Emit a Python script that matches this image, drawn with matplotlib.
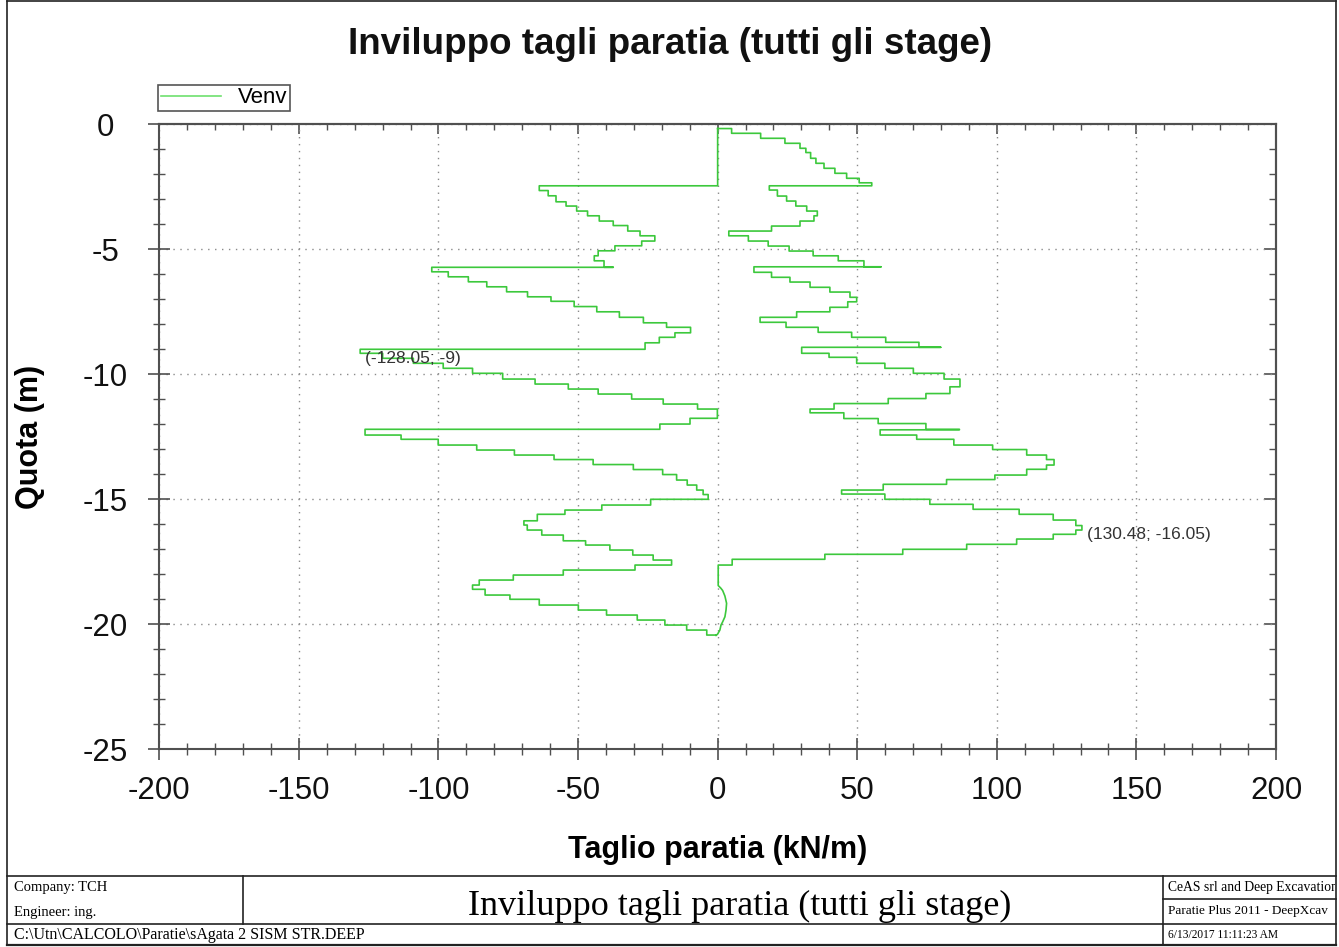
import numpy as np
import matplotlib.pyplot as plt
from matplotlib.lines import Line2D
from matplotlib.transforms import Bbox, TransformedBbox
from matplotlib.ticker import MultipleLocator

plt.rcParams['font.family'] = ['Liberation Sans', 'DejaVu Sans']
plt.rcParams['axes.unicode_minus'] = False

# positive shear envelope (right branch), step vertices: value (kN/m), depth (m)
v_pos = [0, 5.0, 15.4, 24.1, 29.5, 31.6, 33.3, 35.2, 38.1, 42.0, 46.2, 50.7, 55.2,
         18.5, 21.4, 24.7, 28.0, 31.9, 35.7, 34.5, 29.5, 19.3, 4.0, 11.0, 18.1, 25.6,
         34.2, 43.2, 52.4, 58.5, 13.0, 19.3, 25.9, 33.1, 40.2, 47.4, 49.8, 46.6, 40.2,
         28.3, 15.2, 24.5, 36.0, 48.0, 60.2, 72.1, 79.9, 30.1, 39.9, 49.8, 59.9, 70.1,
         81.1, 86.8, 83.2, 74.6, 61.1, 41.7, 33.1, 45.2, 57.5, 74.6, 86.6, 58.2, 71.3,
         84.6, 98.5, 110.7, 117.8, 120.5, 117.8, 110.7, 99.3, 82.0, 59.3, 44.4, 59.9,
         76.0, 91.5, 108.0, 120.2, 128.3, 130.48, 128.3, 120.2, 107.1, 89.2, 66.3,
         38.4, 5.2, 0.2]
z_pos = [-0.17, -0.17, -0.36, -0.56, -0.76, -0.96, -1.13, -1.36, -1.56, -1.76, -1.96,
         -2.16, -2.34, -2.46, -2.63, -2.87, -3.07, -3.27, -3.47, -3.66, -3.87, -4.07,
         -4.27, -4.46, -4.67, -4.87, -5.07, -5.26, -5.46, -5.70, -5.70, -5.92, -6.12,
         -6.31, -6.52, -6.71, -6.92, -7.10, -7.32, -7.50, -7.72, -7.92, -8.12, -8.32,
         -8.52, -8.72, -8.92, -8.92, -9.16, -9.32, -9.56, -9.76, -9.96, -10.19, -10.50,
         -10.77, -10.97, -11.17, -11.39, -11.54, -11.77, -11.97, -12.20, -12.22, -12.43,
         -12.60, -12.83, -13.01, -13.23, -13.41, -13.63, -13.80, -14.03, -14.21, -14.40,
         -14.63, -14.79, -15.00, -15.20, -15.40, -15.60, -15.83, -16.05, -16.23, -16.40,
         -16.59, -16.80, -17.00, -17.20, -17.40, -17.63]

# toe of the wall, smooth part of the positive branch
v_toe = [0.2, 1.1, 1.8, 2.6, 3.2, 3.0, 2.6, 1.8, 1.2, 0.8, 0.0, -0.6]
z_toe = [-18.45, -18.55, -18.65, -18.87, -19.16, -19.43, -19.70, -19.90, -20.03,
         -20.23, -20.39, -20.45]

# negative shear envelope (left branch)
v_neg = [0, -63.9, -60.7, -57.9, -54.3, -50.5, -46.6, -42.4, -37.4, -32.2, -27.8, -22.5,
         -27.2, -36.8, -42.8, -44.2, -40.7, -37.4, -102.4, -96.5, -89.3, -82.7, -75.6,
         -68.1, -59.7, -51.4, -43.3, -35.2, -26.6, -18.3, -9.7, -15.3, -20.9, -26.0,
         -128.05, -120.0, -109.0, -98.3, -87.8, -77.0, -65.4, -53.5, -42.8, -30.8, -19.5,
         -7.2, -0.1, -9.9, -20.7, -126.3, -113.4, -100.1, -86.3, -72.8, -58.6, -44.6,
         -30.2, -19.7, -14.7, -10.9, -7.5, -5.2, -3.4, -24.0, -41.5, -54.7, -64.6, -69.4,
         -68.2, -63.0, -55.3, -47.3, -38.6, -30.4, -23.1, -16.5, -29.6, -55.3, -73.2,
         -85.4, -87.8, -83.3, -74.4, -63.9, -49.9, -39.8, -28.8, -18.9, -11.1, -3.9, -0.6]
z_neg = [-0.17, -2.46, -2.65, -2.86, -3.10, -3.27, -3.47, -3.66, -3.87, -4.05, -4.27,
         -4.46, -4.67, -4.86, -5.06, -5.26, -5.46, -5.72, -5.72, -5.90, -6.10, -6.30,
         -6.50, -6.70, -6.90, -7.08, -7.29, -7.50, -7.72, -7.94, -8.12, -8.34, -8.52,
         -8.74, -9.00, -9.16, -9.36, -9.56, -9.76, -9.96, -10.19, -10.39, -10.59, -10.79,
         -10.99, -11.19, -11.39, -11.76, -11.99, -12.20, -12.43, -12.60, -12.83, -13.03,
         -13.23, -13.41, -13.61, -13.81, -14.01, -14.23, -14.43, -14.63, -14.81, -15.00,
         -15.23, -15.43, -15.60, -15.86, -16.03, -16.23, -16.43, -16.66, -16.83, -17.03,
         -17.23, -17.43, -17.63, -17.83, -18.03, -18.23, -18.43, -18.60, -18.83, -19.00,
         -19.23, -19.43, -19.63, -19.83, -20.03, -20.23, -20.43]

peaks = [(-128.05, -9), (130.48, -16.05)]

W, H = 1339, 947


def steps(v, z):
    # vertical first, then horizontal (shear constant over each slice)
    xs, ys = [v[0]], [z[0]]
    for k in range(1, len(v)):
        xs += [v[k - 1], v[k]]
        ys += [z[k], z[k]]
    return xs, ys


def fx(px):
    return px / W


def fy(py):
    return 1 - py / H


xp, yp = steps(v_pos, z_pos)
xn, yn = steps(v_neg, z_neg)
x_env = xp + v_toe + xn[::-1]
y_env = yp + z_toe + yn[::-1]

fig = plt.figure(figsize=(W / 100, H / 100), dpi=100)
ax = fig.add_axes([fx(159.3), fy(749.3), (1276 - 159.3) / W, (749.3 - 124.3) / H])

ax.plot(x_env, y_env, color='#3cc83c', lw=1.2, label='Venv', zorder=3)

ax.set_xlim(-200, 200)
ax.set_ylim(-25, 0)
ax.xaxis.set_major_locator(MultipleLocator(50))
ax.xaxis.set_minor_locator(MultipleLocator(10))
ax.yaxis.set_major_locator(MultipleLocator(5))
ax.yaxis.set_minor_locator(MultipleLocator(1))
ax.grid(True, which='major', linestyle=(0, (1, 4)), color='#8a8a8a', lw=1.0)

spine_c = '#505050'
for s in ax.spines.values():
    s.set_color(spine_c)
    s.set_linewidth(1.5)
ax.tick_params(which='major', direction='inout', length=15.8, width=1.2, color=spine_c,
               labelsize=22.5, labelcolor='#111111')
ax.tick_params(which='minor', direction='inout', length=8.6, width=1.0, color=spine_c)
ax.tick_params(axis='x', which='major', pad=11.5)
ax.tick_params(axis='y', which='major', pad=31)
for lbl in ax.get_yticklabels():
    lbl.set_ha('center')

# inward ticks on top and right
top = ax.secondary_xaxis('top')
top.xaxis.set_major_locator(MultipleLocator(50))
top.xaxis.set_minor_locator(MultipleLocator(10))
top.tick_params(which='major', direction='in', length=7, width=1.2, color=spine_c, labeltop=False)
top.tick_params(which='minor', direction='in', length=4, width=1.0, color=spine_c)
right = ax.secondary_yaxis('right')
right.yaxis.set_major_locator(MultipleLocator(5))
right.yaxis.set_minor_locator(MultipleLocator(1))
right.tick_params(which='major', direction='in', length=9, width=1.2, color=spine_c, labelright=False)
right.tick_params(which='minor', direction='in', length=5, width=1.0, color=spine_c)
for sec in (top, right):
    for s in sec.spines.values():
        s.set_color(spine_c)
        s.set_linewidth(1.5)

ax.set_xlabel('Taglio paratia (kN/m)', fontsize=22, fontweight='bold')
ax.set_ylabel('Quota (m)', fontsize=22, fontweight='bold')
ax.xaxis.set_label_coords(0.5, -0.137)
ax.yaxis.set_label_coords(-0.102, 0.5)

for vx, vz in peaks:
    ax.annotate('(%g; %g)' % (vx, vz), xy=(vx, vz), xytext=(3.5, -6.7),
                textcoords='offset points', ha='left', va='center', fontsize=12.5,
                color='#333333', zorder=4)

leg = ax.legend(loc='lower left', bbox_to_anchor=(fx(158.3), fy(110.7)),
                bbox_transform=fig.transFigure, fancybox=False, framealpha=1,
                edgecolor='#555555', fontsize=16, borderpad=0.1, handlelength=2.7,
                handletextpad=0.8, borderaxespad=0)
leg.get_frame().set_linewidth(1.2)
for h in leg.get_lines():
    h.set_color('#6ee06e')

fig.text(fx(670.5), fy(45), 'Inviluppo tagli paratia (tutti gli stage)', ha='center',
         va='center', fontsize=26.5, fontweight='bold', color='#111111')


# drawing frame and title block
def seg(x0, y0, x1, y1, lw=1.2):
    fig.add_artist(Line2D([fx(x0), fx(x1)], [fy(y0), fy(y1)], color='#222222', lw=lw))


seg(7, 1, 7, 945)
seg(1336, 1, 1336, 945)
seg(7, 1, 1336, 1)
seg(7, 876, 1336, 876)
seg(7, 924, 1336, 924)
seg(7, 945, 1336, 945, lw=1.6)
seg(243, 876, 243, 924)
seg(1163, 876, 1163, 945)
seg(1163, 899, 1336, 899)

serif = ['Liberation Serif', 'DejaVu Serif']
fig.text(fx(14), fy(887), 'Company: TCH', family=serif, fontsize=10.5, va='center')
fig.text(fx(14), fy(912), 'Engineer: ing.', family=serif, fontsize=10.5, va='center')
fig.text(fx(14), fy(935), r'C:\Utn\CALCOLO\Paratie\sAgata 2 SISM STR.DEEP', family=serif,
         fontsize=11.5, va='center')
fig.text(fx(740), fy(906), 'Inviluppo tagli paratia (tutti gli stage)', family=serif,
         fontsize=26, ha='center', va='center')
clip = TransformedBbox(Bbox([[fx(1163), fy(945)], [fx(1335), fy(876)]]), fig.transFigure)
for txt, py, fs in [('CeAS srl and Deep Excavation', 887, 9.8),
                    ('Paratie Plus 2011 - DeepXcav', 911, 9.5),
                    ('6/13/2017 11:11:23 AM', 935, 8.3)]:
    t = fig.text(fx(1168), fy(py), txt, family=serif, fontsize=fs, va='center', clip_on=True)
    t.set_clip_box(clip)

fig.savefig('out.png', dpi=100)
